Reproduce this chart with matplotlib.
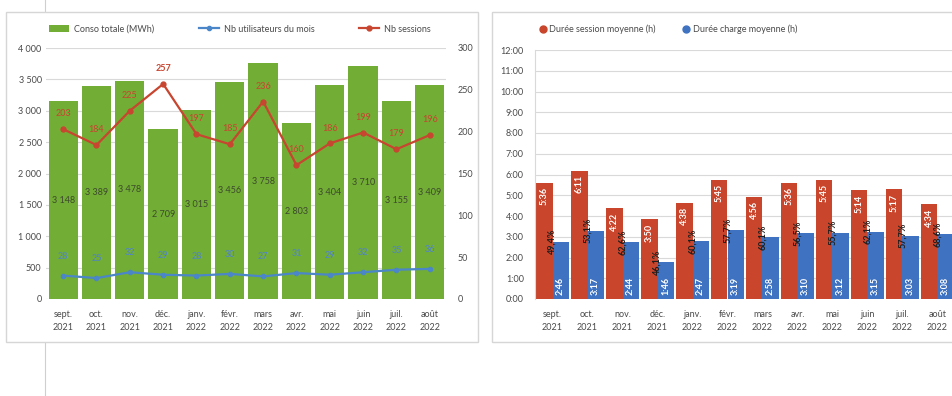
import matplotlib
matplotlib.use("Agg")
import matplotlib.pyplot as plt
from matplotlib.patches import Rectangle
from matplotlib.lines import Line2D
from matplotlib.ticker import FuncFormatter, MultipleLocator
import numpy as np

plt.rcParams['font.family'] = ['Lato', 'DejaVu Sans']

months = ["sept.\n2021", "oct.\n2021", "nov.\n2021", "déc.\n2021", "janv.\n2022", "févr.\n2022",
          "mars\n2022", "avr.\n2022", "mai\n2022", "juin\n2022", "juil.\n2022", "août\n2022"]

# Consumption and usage per month
conso_mwh = [3148, 3389, 3478, 2709, 3015, 3456, 3758, 2803, 3404, 3710, 3155, 3409]
nb_users = [28, 25, 32, 29, 28, 30, 27, 31, 29, 32, 35, 36]
nb_sessions = [203, 184, 225, 257, 197, 185, 236, 160, 186, 199, 179, 196]

# Average durations (h:mm)
duree_session = ["5:36", "6:11", "4:22", "3:50", "4:38", "5:45", "4:56", "5:36", "5:45", "5:14", "5:17", "4:34"]
duree_charge = ["2:46", "3:17", "2:44", "1:46", "2:47", "3:19", "2:58", "3:10", "3:12", "3:15", "3:03", "3:08"]

GREEN = "#72ad36"
BLUE_LINE = "#4a86c8"
RED_LINE = "#c8452f"
RED_BAR = "#c9452b"
BLUE_BAR = "#3f72c0"
TXT = "#4a4a4a"
GRID = "#d9d9d9"


def to_hours(s):
    h, m = s.split(":")
    return int(h) + int(m) / 60.0


def fmt_thousands(v, _):
    return f"{int(v):,}".replace(",", " ")


W, H = 953, 396
fig = plt.figure(figsize=(W / 100, H / 100), dpi=100)
fig.patch.set_facecolor("white")


def fx(px):
    return px / W


def fy(py):
    return 1 - py / H


# page guide line and chart frames
fig.add_artist(Line2D([fx(45), fx(45)], [0, 1], color="#cfcfcf", lw=0.8, zorder=0))
for x0, x1 in [(6, 478), (492, 965)]:
    fig.add_artist(Rectangle((fx(x0), fy(342)), fx(x1 - x0), fy(12) - fy(342),
                             facecolor="white", edgecolor="#d6d6d6", lw=1.0, zorder=1))

x = np.arange(len(months))

# ---------------- Left chart ----------------
axL = fig.add_axes([fx(46.5), fy(299), fx(400), fy(48) - fy(299)], zorder=3)
axL.set_facecolor("none")
axL.bar(x, conso_mwh, width=0.88, color=GREEN, zorder=2)
axL.set_ylim(0, 4000)
axL.set_xlim(-0.5, len(months) - 0.5)
axL.yaxis.set_major_locator(MultipleLocator(500))
axL.yaxis.set_major_formatter(FuncFormatter(fmt_thousands))
axL.grid(axis="y", color=GRID, lw=0.8, zorder=0)
axL.set_axisbelow(True)
axL.set_xticks(x)
axL.set_xticklabels(months, linespacing=1.6)
for s in axL.spines.values():
    s.set_visible(False)
axL.tick_params(axis="both", length=0, labelsize=6.5, colors=TXT)
axL.tick_params(axis="x", pad=8)
for xi, v in zip(x, conso_mwh):
    axL.text(xi, v / 2, fmt_thousands(v, None), ha="center", va="center",
             fontsize=6.5, color="#3d4a2c", zorder=4)

axR = axL.twinx()
axR.set_ylim(0, 300)
axR.yaxis.set_major_locator(MultipleLocator(50))
for s in axR.spines.values():
    s.set_visible(False)
axR.tick_params(axis="y", length=0, labelsize=6.5, colors=TXT, pad=8)
axR.plot(x, nb_users, color=BLUE_LINE, lw=1.6, marker="o", ms=3, zorder=5)
axR.plot(x, nb_sessions, color=RED_LINE, lw=1.6, marker="o", ms=3.5, zorder=5)
for xi, v in zip(x, nb_users):
    axR.annotate(str(v), (xi, v), xytext=(0, 14), textcoords="offset points",
                 ha="center", va="center", fontsize=6.5, color="#4f82cc")
for xi, v in zip(x, nb_sessions):
    axR.annotate(str(v), (xi, v), xytext=(0, 11), textcoords="offset points",
                 ha="center", va="center", fontsize=6.5, color=RED_LINE,
                 fontweight="bold" if v == max(nb_sessions) else "normal")

handlesL = [
    Rectangle((0, 0), 1, 1, facecolor=GREEN),
    Line2D([], [], color=BLUE_LINE, lw=1.6, marker="o", ms=3),
    Line2D([], [], color=RED_LINE, lw=1.6, marker="o", ms=3.5),
]
fig.legend(handlesL, ["Conso totale (MWh)", "Nb utilisateurs du mois", "Nb sessions"],
           loc="center", bbox_to_anchor=(fx(240), fy(29)), ncol=3, frameon=False,
           fontsize=6.5, handlelength=2.2, columnspacing=5.0, handletextpad=0.5,
           labelcolor=TXT)

# ---------------- Right chart ----------------
sess_h = [to_hours(s) for s in duree_session]
charge_h = [to_hours(s) for s in duree_charge]
ratio = [c / s * 100 for c, s in zip(charge_h, sess_h)]

ax2 = fig.add_axes([fx(535), fy(299), fx(420), fy(50) - fy(299)], zorder=3)
ax2.set_facecolor("none")
bw = 0.46
ax2.bar(x - bw / 2, sess_h, width=bw, color=RED_BAR, zorder=2)
ax2.bar(x + bw / 2, charge_h, width=bw, color=BLUE_BAR, zorder=2)
ax2.set_ylim(0, 12)
ax2.set_xlim(-0.5, len(months) - 0.5)
ax2.yaxis.set_major_locator(MultipleLocator(1))
ax2.yaxis.set_major_formatter(FuncFormatter(lambda v, _: f"{int(round(v))}:00"))
ax2.grid(axis="y", color=GRID, lw=0.8, zorder=0)
ax2.set_axisbelow(True)
ax2.set_xticks(x)
ax2.set_xticklabels(months, linespacing=1.6)
for s in ax2.spines.values():
    s.set_visible(False)
ax2.spines["left"].set_visible(True)
ax2.spines["left"].set_color(GRID)
ax2.tick_params(axis="both", length=0, labelsize=6.5, colors=TXT)
ax2.tick_params(axis="x", pad=8)
ax2.tick_params(axis="y", pad=8)

for xi, v, lab in zip(x, sess_h, duree_session):
    ax2.annotate(lab, (xi - bw / 2, v), xytext=(0, -3), textcoords="offset points",
                 ha="center", va="top", rotation=90, fontsize=6.5, color="white",
                 fontweight="bold", zorder=4)
for xi, v, lab in zip(x, charge_h, duree_charge):
    ax2.annotate(lab, (xi + bw / 2, 0), xytext=(0, 3), textcoords="offset points",
                 ha="center", va="bottom", rotation=90, fontsize=6.5, color="white",
                 fontweight="bold", zorder=4)
for xi, v, r in zip(x, charge_h, ratio):
    ax2.annotate(f"{r:.1f}%".replace(".", ","), (xi, v), ha="center", va="center",
                 rotation=90, fontsize=6.5, color="#1e1e1e", fontweight="bold", zorder=4)

handlesR = [
    Line2D([], [], ls="none", marker="o", ms=5, color=RED_BAR),
    Line2D([], [], ls="none", marker="o", ms=5, color=BLUE_BAR),
]
fig.legend(handlesR, ["Durée session moyenne (h)", "Durée charge moyenne (h)"],
           loc="center", bbox_to_anchor=(fx(668), fy(29)), ncol=2, frameon=False,
           fontsize=6.5, handlelength=0.8, columnspacing=3.0, handletextpad=0.3,
           labelcolor=TXT)

fig.savefig("out.png", dpi=100, facecolor="white")
